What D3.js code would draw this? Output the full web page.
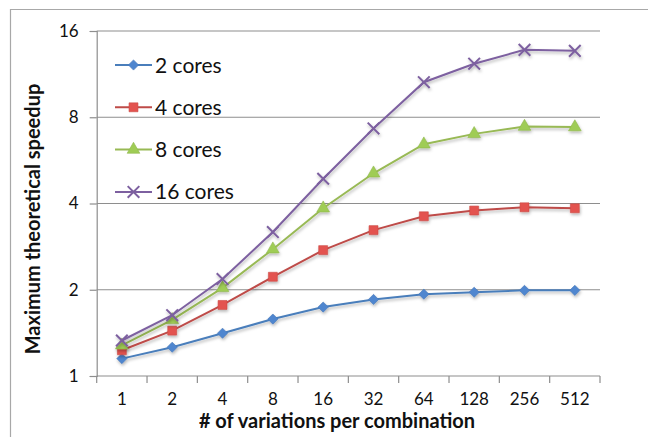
<!DOCTYPE html>
<html>
<head>
<style>
  body { margin: 0; background: #fff; }
  text { font-family: Lato, "Open Sans", sans-serif; fill: #111; }
  .grid line { stroke: #8e8e8e; stroke-width: 1.2; }
  .axis path, .axis line { stroke: #8e8e8e; stroke-width: 1.2; }
</style>
<script src="https://d3js.org/d3.v7.min.js"></script>
</head>
<body>
<div id="chart"></div>
<script>
// values
const variations = ['1', '2', '4', '8', '16', '32', '64', '128', '256', '512'];
const yTicks = [1, 2, 4, 8, 16];
const cores2 = [1.15, 1.26, 1.41, 1.58, 1.74, 1.85, 1.93, 1.96, 1.99, 1.99];
const cores4 = [1.23, 1.44, 1.77, 2.22, 2.75, 3.23, 3.61, 3.78, 3.88, 3.85];
const cores8 = [1.28, 1.57, 2.03, 2.77, 3.85, 5.10, 6.44, 7.00, 7.42, 7.39];
const cores16 = [1.33, 1.63, 2.18, 3.18, 4.88, 7.31, 10.6, 12.3, 13.75, 13.64];

const series = [
  {name: '2 cores', values: cores2, line: '#4a7ebb', fill: '#4f86cf', symbol: d3.symbolSquare, size: 52, rot: 45},
  {name: '4 cores', values: cores4, line: '#be4b48', fill: '#e3534f', symbol: d3.symbolSquare, size: 80, rot: 0},
  {name: '8 cores', values: cores8, line: '#98b954', fill: '#9fcc55', symbol: d3.symbolTriangle, size: 70, rot: 0},
  {name: '16 cores', values: cores16, line: '#7d60a0', fill: '#7d60a0', symbol: d3.symbolTimes, size: 90, rot: 0}
];

const width = 648, height = 437;
const svg = d3.select('#chart').append('svg')
  .attr('width', width).attr('height', height);

const defs = svg.append('defs');
const f = defs.append('filter').attr('id', 'shadow')
  .attr('x', '-20%').attr('y', '-20%').attr('width', '140%').attr('height', '160%');
f.append('feDropShadow').attr('dx', 0.8).attr('dy', 2).attr('stdDeviation', 1.4)
  .attr('flood-color', '#000').attr('flood-opacity', 0.28);

// chart frame (cropped on right and bottom)
svg.append('path')
  .attr('d', 'M10.5,437 L10.5,9.5 L648,9.5')
  .attr('fill', 'none').attr('stroke', '#a8a8a8').attr('stroke-width', 1.2);

const x = d3.scaleBand().domain(variations).range([96.7, 600]);
const y = d3.scaleLog().base(2).domain([1, 16]).range([376, 31]);

// gridlines
svg.append('g').attr('class', 'grid')
  .selectAll('line').data(yTicks.slice(1)).join('line')
  .attr('x1', 96.7).attr('x2', 600)
  .attr('y1', d => y(d)).attr('y2', d => y(d));

// y axis
const yAxis = svg.append('g').attr('class', 'axis')
  .attr('transform', 'translate(96.7,0)')
  .call(d3.axisLeft(y).tickValues(yTicks).tickFormat(d3.format('d')).tickSizeOuter(0).tickSize(7).tickPadding(11));
yAxis.selectAll('text').style('font-size', '17px').style('font-family', 'Lato, sans-serif').attr('fill', '#111');

// x axis
const xAxis = svg.append('g').attr('class', 'axis')
  .attr('transform', 'translate(0,376)')
  .call(d3.axisBottom(x).tickSize(0).tickPadding(17));
xAxis.select('.domain').remove();
xAxis.append('line').attr('x1', 96.7).attr('x2', 600).attr('stroke', '#8e8e8e').attr('stroke-width', 1.2);
xAxis.selectAll('.xt').data(d3.range(variations.length + 1)).join('line')
  .attr('class', 'xt')
  .attr('x1', i => 96.7 + i * x.step()).attr('x2', i => 96.7 + i * x.step())
  .attr('y1', 0).attr('y2', 7);
xAxis.selectAll('text').style('font-size', '17px').style('font-family', 'Lato, sans-serif').attr('fill', '#111');

// axis titles
svg.append('text')
  .attr('x', 337).attr('y', 428)
  .attr('text-anchor', 'middle')
  .style('font-size', '20px').style('font-weight', 'bold')
  .text('# of variations per combination');
svg.append('text')
  .attr('transform', 'translate(40,219) rotate(-90)')
  .attr('text-anchor', 'middle')
  .style('font-size', '20px').style('font-weight', 'bold')
  .text('Maximum theoretical speedup');

// series
const line = d3.line()
  .x((d, i) => x(variations[i]) + x.bandwidth() / 2)
  .y(d => y(d));

const isX = s => s.symbol === d3.symbolTimes;

const sg = svg.append('g').selectAll('g').data(series).join('g')
  .attr('filter', 'url(#shadow)');
sg.append('path')
  .attr('d', s => line(s.values))
  .attr('fill', 'none')
  .attr('stroke', s => s.line)
  .attr('stroke-width', 2);
sg.each(function(s) {
  d3.select(this).selectAll('path.mk').data(s.values).join('path')
    .attr('class', 'mk')
    .attr('transform', (d, i) => `translate(${x(variations[i]) + x.bandwidth() / 2},${y(d)}) rotate(${s.rot})`)
    .attr('d', d3.symbol(s.symbol, s.size))
    .attr('fill', isX(s) ? 'none' : s.fill)
    .attr('stroke', isX(s) ? s.line : d3.color(s.fill).darker(0.3))
    .attr('stroke-width', isX(s) ? 2 : 0.6);
});

// legend
const lg = svg.append('g').selectAll('g').data(series).join('g')
  .attr('transform', (s, i) => `translate(115,${65 + i * 42.3})`);
lg.append('line').attr('x1', 0).attr('x2', 37)
  .attr('stroke', s => s.line).attr('stroke-width', 2);
lg.append('path')
  .attr('transform', s => `translate(18.5,0) rotate(${s.rot})`)
  .attr('d', s => d3.symbol(s.symbol, s.size)())
  .attr('fill', s => isX(s) ? 'none' : s.fill)
  .attr('stroke', s => isX(s) ? s.line : d3.color(s.fill).darker(0.3))
  .attr('stroke-width', s => isX(s) ? 2 : 0.6);
lg.append('text')
  .attr('x', 40).attr('y', 7.5)
  .style('font-size', '21px')
  .text(s => s.name);
</script>
</body>
</html>
